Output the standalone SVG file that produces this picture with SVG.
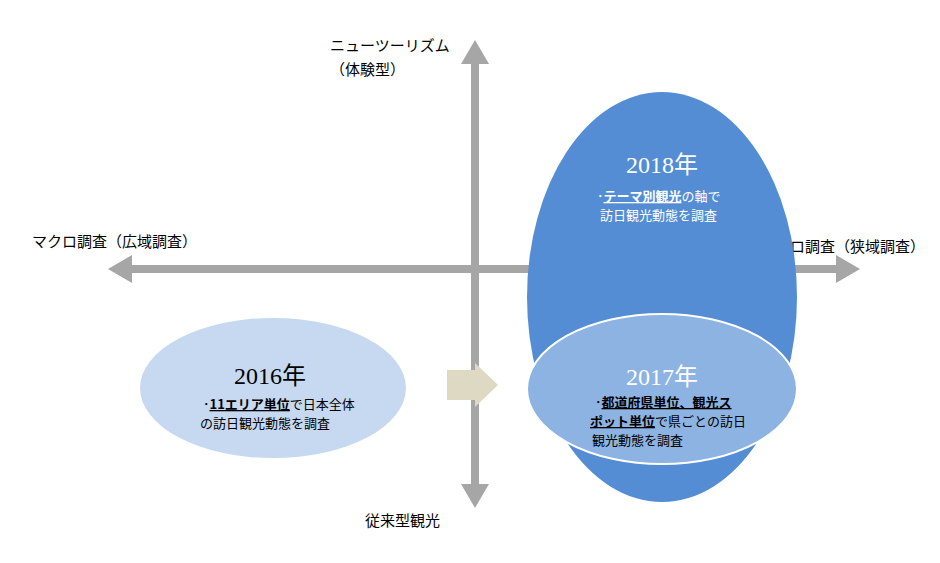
<svg xmlns="http://www.w3.org/2000/svg" width="940" height="563" viewBox="0 0 940 563">
<style>
text{font-family:"Liberation Serif","Noto Sans CJK JP",serif;}
.lbl{font-size:15px;fill:#000}
.yr{font-size:24px}
.sm{font-size:13px;font-family:"Noto Sans CJK JP",sans-serif}
.b{font-weight:bold;text-decoration:underline}
</style>
<rect width="940" height="563" fill="#fff"/>
<g id="axes">
<line x1="128" y1="269" x2="840" y2="269" stroke="#a6a6a6" stroke-width="8"/>
<polygon points="108,269 132,255 132,283" fill="#a6a6a6"/>
<polygon points="860,269 836,255 836,283" fill="#a6a6a6"/>
<line x1="475" y1="60" x2="475" y2="488" stroke="#a6a6a6" stroke-width="8"/>
<polygon points="475,40 461,64 489,64" fill="#a6a6a6"/>
<polygon points="475,508 461,484 489,484" fill="#a6a6a6"/>
</g>
<g id="labels">
<text class="lbl" x="330" y="51">ニューツーリズム</text>
<text class="lbl" x="330" y="75">（体験型）</text>
<text class="lbl" x="32" y="247">マクロ調査（広域調査）</text>
<text class="lbl" x="760" y="252">ミクロ調査（狭域調査）</text>
<text class="lbl" x="365" y="526">従来型観光</text>
</g>
<g id="n2018">
<ellipse cx="662" cy="297" rx="135" ry="205" fill="#548dd4"/>
<text class="yr" x="662" y="173" text-anchor="middle" fill="#fff">2018年</text>
<text class="sm" x="597" y="201" fill="#fff">･<tspan class="b">テーマ別観光</tspan>の軸で</text>
<text class="sm" x="600" y="220" fill="#fff">訪日観光動態を調査</text>
</g>
<g id="n2017">
<ellipse cx="662" cy="389" rx="135" ry="75" fill="#8db3e2" stroke="#fff" stroke-width="2"/>
<text class="yr" x="662" y="385" text-anchor="middle" fill="#fff">2017年</text>
<text class="sm" x="595" y="407" fill="#000">･<tspan class="b">都道府県単位、観光ス</tspan></text>
<text class="sm" x="590" y="426" fill="#000"><tspan class="b">ポット単位</tspan>で県ごとの訪日</text>
<text class="sm" x="592" y="445" fill="#000">観光動態を調査</text>
</g>
<g id="n2016">
<ellipse cx="273" cy="388" rx="133" ry="70" fill="#c6d9f1"/>
<text class="yr" x="270" y="384" text-anchor="middle" fill="#000">2016年</text>
<text class="sm" x="203" y="409" fill="#000">･<tspan class="b">11エリア単位</tspan>で日本全体</text>
<text class="sm" x="200" y="428" fill="#000">の訪日観光動態を調査</text>
</g>
<g id="connectors">
<polygon points="447,370 475,370 475,363 498,385 475,407 475,400 447,400" fill="#ddd9c3"/>
</g>
</svg>
